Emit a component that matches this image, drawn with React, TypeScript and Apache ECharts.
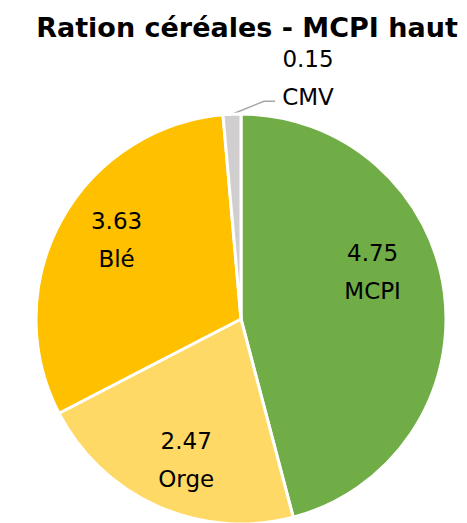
import React, { useEffect, useRef } from "react";
import * as echarts from "echarts";

const categories = ["MCPI", "Orge", "Blé", "CMV"];
// values printed in the labels
const labelValues = ["4.75", "2.47", "3.63", "0.15"];
// slice shares (%)
const sliceShares = [45.9, 21.5, 31.2, 1.4];
const colors = ["#70AD47", "#FFD966", "#FFC000", "#D0CECE"];
const titleText = "Ration céréales - MCPI haut";

// label offsets from default inside position (styling only)
const labelShift = [
  [27, -33],
  [-12, 45],
  [-32, -28],
];

export default function App() {
  const ref = useRef<HTMLDivElement>(null);
  useEffect(() => {
    if (!ref.current) return;
    const chart = echarts.init(ref.current, undefined, { renderer: "svg" });
    const font = "'DejaVu Sans', 'Open Sans', sans-serif";
    chart.setOption({
      animation: false,
      title: {
        text: titleText,
        left: 242,
        textAlign: "center",
        top: 9,
        textStyle: { fontFamily: font, fontSize: 27, fontWeight: "bold", color: "#000" },
      },
      series: [
        {
          type: "pie",
          center: [241, 319],
          radius: [0, 205],
          startAngle: 90,
          clockwise: true,
          avoidLabelOverlap: false,
          itemStyle: { borderColor: "#fff", borderWidth: 3 },
          label: {
            show: true,
            position: "inside",
            formatter: (p: any) => labelValues[p.dataIndex] + "\n" + p.name,
            color: "#000",
            fontFamily: font,
            fontSize: 23,
            lineHeight: 38,
            align: "center",
          },
          labelLayout: (p: any) => {
            const i = p.dataIndex;
            if (i < 3) return { dx: labelShift[i][0], dy: labelShift[i][1] };
            const pts = p.labelLinePoints;
            if (!pts) return {};
            const p0 = pts[0];
            return {
              x: p0[0] + 76,
              y: p0[1] - 36,
              align: "center",
              verticalAlign: "middle",
              labelLinePoints: [p0, [p0[0] + 32, p0[1] - 13], [p0[0] + 43, p0[1] - 13]],
            };
          },
          data: categories.map((c, i) => {
            const d: any = { name: c, value: sliceShares[i], itemStyle: { color: colors[i] } };
            if (i === 3) {
              d.label = { position: "outside" };
              d.labelLine = { show: true, length: 12, length2: 0, lineStyle: { color: "#A6A6A6", width: 1.5 } };
            }
            return d;
          }),
        },
      ],
    });
    return () => chart.dispose();
  }, []);
  return <div ref={ref} style={{ position: "absolute", left: 0, top: 0, width: 467, height: 523 }} />;
}
